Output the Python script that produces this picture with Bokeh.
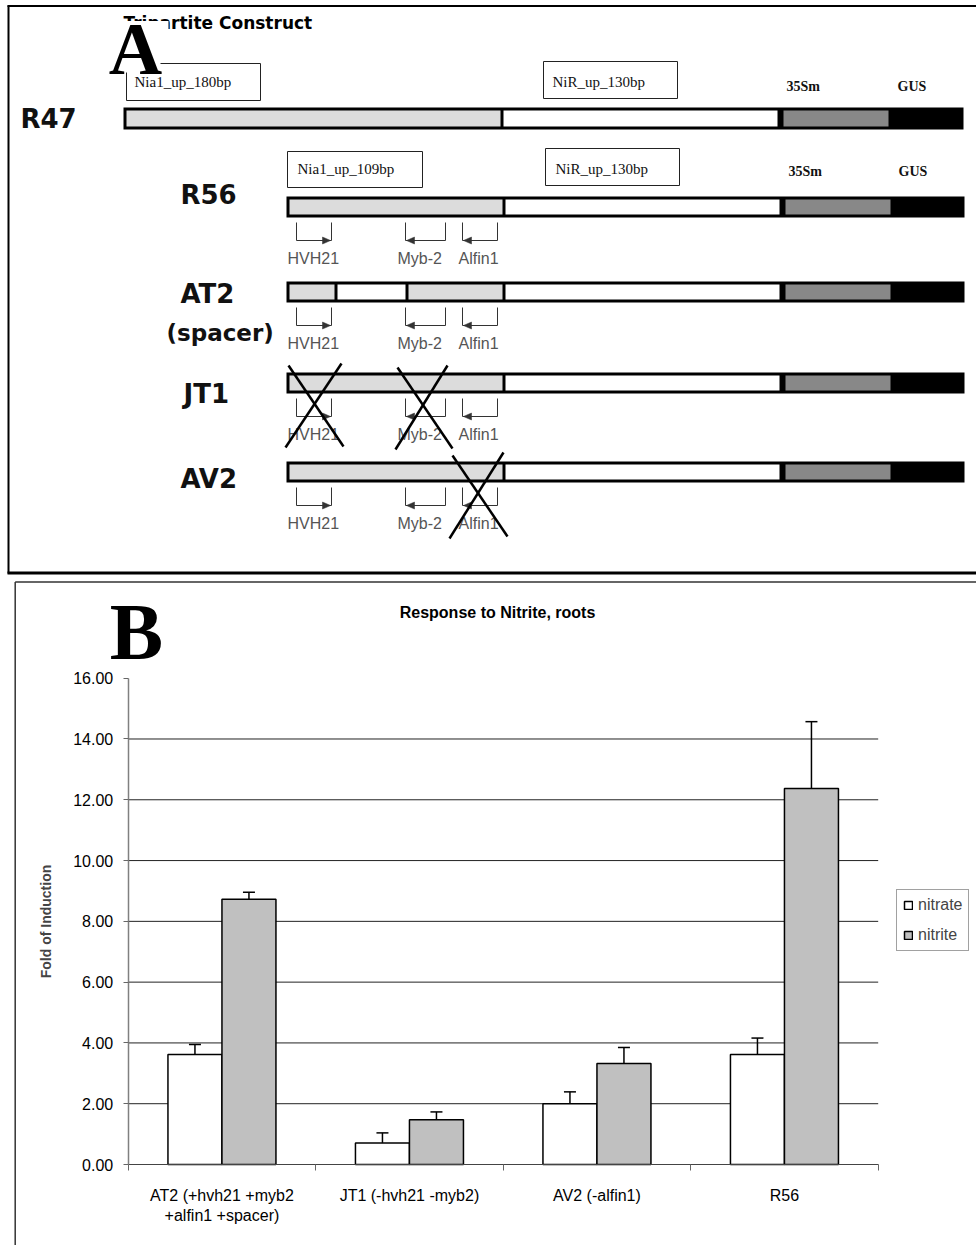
import numpy as np
from bokeh.plotting import figure
from bokeh.models import (Range1d, FixedTicker, NumeralTickFormatter, Legend, LegendItem,
                          Whisker, TeeHead, ColumnDataSource, LinearAxis)
from bokeh.embed import file_html
from bokeh.resources import INLINE
from bokeh.core.properties import value

# ---------------- Panel B data ----------------
categories = ["AT2 (+hvh21 +myb2\n+alfin1 +spacer)", "JT1 (-hvh21 -myb2)", "AV2 (-alfin1)", "R56"]
series = ["nitrate", "nitrite"]
nitrate = [3.62, 0.71, 2.00, 3.62]
nitrate_err = [0.33, 0.33, 0.39, 0.54]
nitrite = [8.73, 1.47, 3.32, 12.37]
nitrite_err = [0.23, 0.26, 0.53, 2.20]
y_ticks = [0, 2, 4, 6, 8, 10, 12, 14, 16]
chart_title = "Response to Nitrite, roots"
y_label = "Fold of Induction"

# ---------------- Panel A content ----------------
diagram_title = "Tripartite Construct"
constructs = ["R47", "R56", "AT2", "JT1", "AV2"]
spacer_note = "(spacer)"
motifs = ["HVH21", "Myb-2", "Alfin1"]
element_labels = ["35Sm", "GUS"]

SANS = "Liberation Sans"
SERIF = "Liberation Serif"
BOLDSANS = "DejaVu Sans"

# page geometry (pixels; the canvas starts at the page origin)
PX0, PX1, PY0, PY1 = 0, 976, 0, 1245
W, H = PX1 - PX0, PY1 - PY0

p = figure(width=W, height=H, x_range=Range1d(PX0, PX1), y_range=Range1d(PY1, PY0),
           x_axis_type=None, y_axis_type=None, output_backend="svg",
           toolbar_location=None, min_border=0, outline_line_color=None,
           border_fill_color="white", background_fill_color="white")

# ================= Panel A: construct diagram =================
rows = {
    "R47": (123, 107, 129),
    "R56": (286, 196, 217),
    "AT2": (286, 281, 302),
    "JT1": (286, 372, 393),
    "AV2": (286, 461, 482),
}
L_GRAY, D_GRAY = "#dcdcdc", "#888888"
ol, orr, ot, ob = [], [], [], []
fl, fr, ft, fb, fc = [], [], [], [], []
for name, (x0, yt, yb) in rows.items():
    if name == "R47":
        x_end = 963
        parts = [(x0 + 3, 500, L_GRAY), (503, 777, "white"), (783, 888, D_GRAY)]
    elif name == "AT2":
        x_end = 964
        parts = [(x0 + 3, 334, L_GRAY), (337, 405, "white"), (408, 502, L_GRAY),
                 (505, 779, "white"), (785, 890, D_GRAY)]
    else:
        x_end = 964
        parts = [(x0 + 3, 502, L_GRAY), (505, 779, "white"), (785, 890, D_GRAY)]
    ol.append(x0); orr.append(x_end); ot.append(yt); ob.append(yb)
    for a, b, c in parts:
        fl.append(a); fr.append(b); ft.append(yt + 3); fb.append(yb - 3); fc.append(c)
p.quad(left=ol, right=orr, top=ot, bottom=ob, fill_color="black", line_color=None)
p.quad(left=fl, right=fr, top=ft, bottom=fb, fill_color=fc, line_color=None)

boxes = [
    (126, 260, 63, 100, "Nia1_up_180bp", 134, 81),
    (543, 677, 61, 98, "NiR_up_130bp", 552, 81),
    (287, 422, 151, 187, "Nia1_up_109bp", 297, 168),
    (545, 679, 148, 185, "NiR_up_130bp", 555, 168),
]
p.quad(left=[b[0] for b in boxes], right=[b[1] for b in boxes],
       top=[b[2] for b in boxes], bottom=[b[3] for b in boxes],
       fill_color="white", line_color="#222222", line_width=1)
p.text(x=[b[5] for b in boxes], y=[b[6] for b in boxes], text=[b[4] for b in boxes],
       text_font=value(SERIF), text_font_size="15px", text_baseline="middle",
       text_color="#111111")
p.text(x=[786, 897, 788, 898], y=[86, 86, 171, 171],
       text=element_labels * 2, text_font=value(SERIF), text_font_size="14px",
       text_font_style="bold", text_baseline="middle", text_color="#111111")

p.text(x=[20, 180, 180, 183, 180], y=[118, 194, 293, 393, 478], text=constructs,
       text_font=value(BOLDSANS), text_font_style="bold", text_font_size="26px",
       text_baseline="middle", text_color="#111111")
p.text(x=[166], y=[332], text=[spacer_note], text_font=value(BOLDSANS),
       text_font_style="bold", text_font_size="23px", text_baseline="middle",
       text_color="#111111")

motif_pos = [(296, 331, "right", 287), (405, 445, "left", 397), (462, 497, "left", 458)]
sx0, sy0, sx1, sy1 = [], [], [], []
hx, hy = [], []
tx, ty, tt = [], [], []
for name in ["R56", "AT2", "JT1", "AV2"]:
    yb_bar = rows[name][2]
    y_t, y_b = yb_bar + 5, yb_bar + 23
    for (xl, xr, d, lx), m in zip(motif_pos, motifs):
        sx0 += [xl, xr, xl]; sx1 += [xl, xr, xr]
        sy0 += [y_t, y_t, y_b]; sy1 += [y_b, y_b, y_b]
        if d == "right":
            hx.append([xr - 1, xr - 9, xr - 9]); hy.append([y_b, y_b - 3.5, y_b + 3.5])
        else:
            hx.append([xl + 1, xl + 9, xl + 9]); hy.append([y_b, y_b - 3.5, y_b + 3.5])
        tx.append(lx); ty.append(yb_bar + 41); tt.append(m)
p.segment(x0=sx0, y0=sy0, x1=sx1, y1=sy1, line_color="#333333", line_width=1)
p.patches(xs=hx, ys=hy, fill_color="#333333", line_color="#333333", line_width=0.5)
p.text(x=tx, y=ty, text=tt, text_font=value(SANS), text_font_size="16px",
       text_baseline="middle", text_color="#555555")

cx0 = [288, 341, 397, 447, 452, 503]
cy0 = [365, 363, 367, 365, 455, 452]
cx1 = [343, 285, 452, 395, 507, 449]
cy1 = [446, 447, 448, 449, 536, 538]
p.segment(x0=cx0, y0=cy0, x1=cx1, y1=cy1, line_color="black", line_width=2.5)

p.text(x=[123], y=[22], text=[diagram_title], text_font=value(BOLDSANS),
       text_font_style="bold", text_font_size="17px", text_baseline="middle",
       text_color="black")
p.quad(left=[110, 110], right=[168, 160], top=[20.5, 62], bottom=[62, 72],
       fill_color="white", line_color=None)
p.text(x=[135], y=[48], text=["A"], text_font=value(SERIF), text_font_style="bold",
       text_font_size="74px", text_align="center", text_baseline="middle",
       text_color="black")

# panel A border (top, left, bottom)
p.segment(x0=[7, 8, 7], y0=[5.5, 5, 572.5], x1=[976, 8, 976], y1=[5.5, 573, 572.5],
          line_color="black", line_width=[2, 2, 3])

# ================= Panel B: decorations =================
p.segment(x0=[14.7, 14.7], y0=[581.5, 581.5], x1=[976, 14.7], y1=[581.5, 1245],
          line_color="#333333", line_width=1.5)
p.text(x=[136], y=[631], text=["B"], text_font=value(SERIF), text_font_style="bold",
       text_font_size="80px", text_align="center", text_baseline="middle",
       text_color="black")
p.text(x=[497], y=[612], text=[chart_title], text_font=value(SANS),
       text_font_style="bold", text_font_size="16px", text_align="center",
       text_baseline="middle", text_color="black")

# ================= Panel B: bar chart (own scales) =================
FL, FR, FT, FB = 127.7, 877.7, 677.7, 1164.0   # chart area in page pixels
ncat = len(categories)
ymax = y_ticks[-1]
kx = (FR - FL) / ncat
ky = (FB - FT) / ymax
p.extra_x_ranges = {"cats": Range1d(-(FL - PX0) / kx, ncat + (PX1 - FR) / kx)}
p.extra_y_ranges = {"vals": Range1d(-(PY1 - FB) / ky, ymax + (FT - PY0) / ky)}
RN = dict(x_range_name="cats", y_range_name="vals")

grid_vals = y_ticks[1:-1]
p.segment(x0=[0] * len(grid_vals), x1=[ncat] * len(grid_vals), y0=grid_vals, y1=grid_vals,
          line_color="#222222", line_width=1, level="underlay", **RN)

centers = np.arange(ncat) + 0.5
bw = 0.288
src = ColumnDataSource(dict(
    x1=centers - bw / 2, x2=centers + bw / 2,
    a=nitrate, b=nitrite,
    a_up=np.add(nitrate, nitrate_err), b_up=np.add(nitrite, nitrite_err)))
r1 = p.vbar(x="x1", top="a", width=bw, source=src, fill_color="white",
            line_color="black", line_width=1.5, **RN)
r2 = p.vbar(x="x2", top="b", width=bw, source=src, fill_color="#c0c0c0",
            line_color="black", line_width=1.5, **RN)
for base, lo, up in [("x1", "a", "a_up"), ("x2", "b", "b_up")]:
    p.add_layout(Whisker(source=src, base=base, lower=lo, upper=up, dimension="height",
                         upper_head=TeeHead(size=12, line_width=1.5, line_color="black"),
                         lower_head=None, line_width=1.5, line_color="black", **RN))

ya = LinearAxis(fixed_location=0, bounds=(0, ymax), ticker=FixedTicker(ticks=y_ticks),
                formatter=NumeralTickFormatter(format="0.00"), **RN)
ya.major_tick_out = 5
ya.major_tick_in = 0
ya.minor_tick_out = 0
ya.minor_tick_in = 0
ya.major_tick_line_color = "#666666"
ya.axis_line_color = "#808080"
ya.axis_line_width = 1.5
ya.major_label_standoff = 10
ya.major_label_text_font = SANS
ya.major_label_text_font_size = "16px"
ya.major_label_text_color = "black"
ya.axis_label = y_label
ya.axis_label_text_font = SANS
ya.axis_label_text_font_style = "bold"
ya.axis_label_text_font_size = "14px"
ya.axis_label_standoff = 16
p.add_layout(ya, "left")

xa = LinearAxis(fixed_location=0, bounds=(0, ncat),
                ticker=FixedTicker(ticks=list(centers), minor_ticks=list(range(ncat + 1))),
                **RN)
xa.major_label_overrides = {float(c): cat for c, cat in zip(centers, categories)}
xa.major_tick_out = 0
xa.major_tick_in = 0
xa.minor_tick_out = 6
xa.minor_tick_in = 0
xa.minor_tick_line_color = "#666666"
xa.major_label_standoff = 16
xa.axis_line_color = "#444444"
xa.axis_line_width = 1.2
xa.major_label_text_font = SANS
xa.major_label_text_font_size = "16px"
xa.major_label_text_color = "black"
p.add_layout(xa, "below")

legend = Legend(items=[LegendItem(label=series[0], renderers=[r1]),
                       LegendItem(label=series[1], renderers=[r2])],
                location=(896, 294), orientation="vertical",
                glyph_width=10, glyph_height=10, label_height=18,
                label_text_font=SANS, label_text_font_size="16px",
                border_line_color="#444444", border_line_width=1,
                padding=6, spacing=12, margin=0, label_standoff=5)
p.add_layout(legend)

open("out.html", "w").write(file_html(p, INLINE))
